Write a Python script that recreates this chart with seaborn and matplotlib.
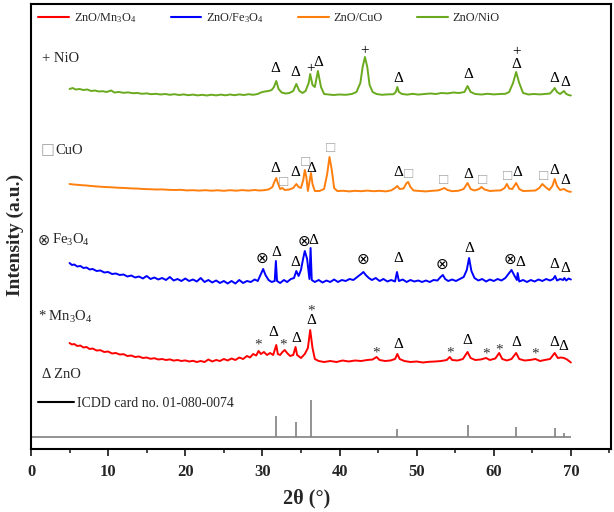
import matplotlib
matplotlib.use("Agg")
import matplotlib.pyplot as plt
from matplotlib.lines import Line2D
import seaborn as sns

# XRD patterns: (2theta, intensity a.u. above own baseline)
mn_pattern = [(5.0, 20), (5.3, 18.5), (5.6, 19), (6.0, 17), (6.4, 17.5), (6.8, 15.5), (7.2, 16), (7.6, 14),
              (8.0, 14.5), (8.5, 12.5), (9, 12.8), (9.5, 11), (10, 11.5), (10.5, 9.5), (11, 10), (11.5, 8.5),
              (12, 8.8), (12.5, 7), (13, 7.5), (13.5, 6), (14, 6.5), (14.5, 5), (15, 5.5), (15.5, 4.2),
              (16, 4.8), (16.5, 3.5), (17, 4), (17.5, 3), (18, 3.6), (18.5, 2.4), (19, 3), (19.5, 2),
              (20, 2.6), (20.5, 1.5), (21, 2.2), (21.5, 1), (22, 2), (22.5, 1), (23, 3.5), (23.5, 1.5),
              (24, 3), (24.5, 2), (25, 4), (25.5, 2.5), (26, 4.5), (26.5, 3), (27, 5.5), (27.5, 4),
              (28, 7), (28.4, 5.5), (28.8, 9), (29.2, 7.5), (29.5, 12), (29.8, 9), (30.2, 11), (30.6, 8),
              (31.0, 10), (31.4, 8), (31.6, 13), (31.8, 18), (32.0, 9), (32.3, 8), (32.6, 11), (32.9, 13),
              (33.2, 10), (33.6, 7), (34.0, 8), (34.3, 16), (34.5, 8), (35.0, 5), (35.5, 9), (35.9, 15),
              (36.2, 33), (36.5, 15), (36.8, 4), (37.3, 2), (38, 1), (38.8, 2), (39.6, 1), (40.4, 2.5),
              (41.2, 1.5), (42, 2.5), (42.8, 2), (43.6, 3), (44.3, 3.5), (44.8, 6), (45.2, 3), (45.9, 2),
              (46.6, 2.5), (47.2, 4), (47.5, 9), (47.8, 4), (48.4, 2), (49.2, 1), (50, 1.5), (50.8, 0.5),
              (51.6, 1.2), (52.4, 1.5), (53.2, 2), (53.9, 3), (54.3, 6), (54.6, 3), (55.3, 2.5), (56.0, 4),
              (56.6, 11), (57.0, 5), (57.6, 3), (58.3, 3.5), (59.0, 5), (59.5, 3), (60.2, 4.5), (60.7, 10),
              (61.1, 4), (61.7, 2.5), (62.3, 4), (62.9, 10), (63.3, 4), (64, 2.5), (64.7, 3), (65.4, 4),
              (66, 2), (66.6, 3), (67.3, 4), (67.9, 10), (68.3, 5), (68.7, 5.5), (69.1, 5), (69.5, 3.5),
              (70, 0.5)]

fe_pattern = [(5.0, 21), (5.3, 19), (5.6, 19.5), (6.0, 17.5), (6.4, 18), (6.8, 16), (7.2, 16.5), (7.6, 14.5),
              (8.0, 15), (8.5, 13), (9, 13.5), (9.5, 11.5), (10, 12), (10.5, 10), (11, 10.5), (11.5, 9),
              (12, 9.5), (12.5, 7.5), (13, 8.5), (13.5, 6.5), (14, 7.5), (14.5, 5.5), (15, 8), (15.5, 5),
              (16, 6.5), (16.5, 4.5), (17, 6), (17.5, 4), (18, 7), (18.5, 3.5), (19, 5), (19.5, 3),
              (20, 5.5), (20.5, 3), (21, 4.5), (21.5, 2.5), (22, 6), (22.5, 2), (23, 4), (23.5, 1.5),
              (24, 3.5), (24.5, 1), (25, 3), (25.5, 0.5), (26, 3), (26.5, 0.5), (27, 4), (27.5, 1),
              (28, 3), (28.5, 2), (29, 4.5), (29.4, 3), (29.8, 10), (30.1, 15), (30.4, 9), (30.8, 4),
              (31.2, 2), (31.6, 3), (31.75, 23), (31.9, 3), (32.3, 1), (32.8, 4), (33.2, 2), (33.7, 5),
              (34.1, 6), (34.4, 13), (34.7, 8), (35.0, 14), (35.3, 26), (35.5, 33), (35.8, 25), (36.1, 5),
              (36.25, 36), (36.4, 4), (36.8, 2), (37.3, 4), (37.8, 1.5), (38.3, 3.5), (38.8, 2), (39.3, 4.5),
              (39.8, 2), (40.3, 4), (40.8, 3), (41.3, 5), (41.8, 4), (42.3, 7), (42.8, 10), (43.1, 12),
              (43.4, 9), (43.8, 6), (44.2, 4), (44.7, 6), (45.2, 3), (45.7, 5), (46.2, 2.5), (46.7, 4),
              (47.2, 2.5), (47.45, 12), (47.7, 3), (48.2, 4.5), (48.7, 2), (49.2, 4), (49.7, 2.5), (50.2, 3.5),
              (50.7, 2), (51.2, 3.5), (51.7, 2), (52.2, 4), (52.7, 3.5), (53.1, 7), (53.4, 9), (53.7, 5),
              (54.1, 3), (54.6, 4.5), (55.1, 3), (55.6, 5), (56.1, 7), (56.5, 14), (56.8, 26), (57.1, 13),
              (57.5, 6), (58, 3.5), (58.5, 5), (59, 2.5), (59.5, 4.5), (60, 3), (60.5, 5), (61, 3.5),
              (61.5, 6), (61.9, 10), (62.3, 14), (62.7, 8), (63.0, 4), (63.1, 11), (63.3, 2.5), (63.8, 4),
              (64.3, 2), (64.8, 4), (65.3, 2.5), (65.8, 4.5), (66.3, 3), (66.8, 5), (67.3, 3.5), (67.7, 5),
              (67.95, 8), (68.2, 3.5), (68.6, 5), (69.0, 4), (69.15, 6), (69.4, 3.5), (69.7, 5.5), (70, 4.5)]

cu_pattern = [(5.0, 8), (5.5, 7.5), (6, 7.2), (6.6, 6.8), (7.2, 6.5), (7.8, 6), (8.4, 5.6), (9, 5.3),
              (9.6, 5), (10.2, 4.8), (10.8, 4.5), (11.5, 4.2), (12.2, 4), (13, 3.6), (13.8, 3.4), (14.6, 3),
              (15.4, 2.8), (16.2, 2.5), (17, 2.6), (17.8, 2.2), (18.6, 2), (19.4, 2.2), (20.2, 1.6), (21, 1.8),
              (21.8, 1.4), (22.6, 1.8), (23.4, 1.3), (24.2, 1.7), (25, 1.2), (25.8, 1.8), (26.6, 1.3), (27.4, 1.9),
              (28.2, 1.4), (29, 2), (29.6, 1.5), (30.2, 1.8), (30.8, 2.5), (31.3, 5), (31.6, 11), (31.8, 14),
              (32.0, 9), (32.3, 3), (32.6, 4), (32.9, 2), (33.5, 2.5), (34.0, 4), (34.4, 8), (34.7, 5),
              (35.0, 4), (35.3, 12), (35.5, 22), (35.7, 15), (35.9, 1), (36.1, 10), (36.3, 19), (36.5, 8),
              (36.8, 1), (37.4, 1), (38.0, 3), (38.4, 18), (38.7, 35), (39.0, 22), (39.3, 4), (39.7, 1),
              (40.5, 1.2), (41.3, 0.6), (42, 1.2), (42.8, 0.8), (43.6, 1.4), (44.4, 0.8), (45.2, 1.2), (46, 0.6),
              (46.7, 1.6), (47.2, 4), (47.5, 6), (47.8, 3), (48.3, 3.5), (48.7, 9), (48.9, 10), (49.2, 5),
              (49.6, 1.5), (50.4, 1), (51.2, 0.6), (52, 1.2), (52.8, 1.6), (53.3, 3), (53.6, 4), (54, 2),
              (54.6, 0.8), (55.4, 1.2), (56.1, 3), (56.6, 9), (57, 3), (57.5, 1.5), (58.1, 3), (58.4, 5),
              (58.8, 2.5), (59.5, 1), (60.2, 1.4), (60.9, 1.6), (61.4, 4), (61.7, 8), (62, 3.5), (62.4, 3),
              (62.9, 9), (63.3, 3), (63.8, 1), (64.6, 1.2), (65.4, 1.5), (65.9, 4), (66.3, 8), (66.7, 5),
              (67.2, 2), (67.6, 6), (67.9, 13), (68.2, 6), (68.6, 2), (69.1, 3), (69.4, 1.5), (69.7, 0.5),
              (70, 0.2)]

ni_pattern = [(5.0, 8), (5.4, 9), (5.8, 7.5), (6.3, 8), (6.8, 7), (7.3, 7.5), (7.8, 6), (8.3, 6.5),
              (8.8, 5.5), (9.3, 5.8), (9.8, 5), (10.4, 6.5), (10.8, 4.5), (11.4, 5), (12, 4.2), (12.6, 4.6),
              (13.2, 3.8), (13.8, 4), (14.4, 3.2), (15, 3.6), (15.6, 2.8), (16.2, 3.2), (16.8, 2.5), (17.4, 3),
              (18, 2.2), (18.6, 2.8), (19.2, 2), (19.8, 2.6), (20.4, 1.8), (21, 2.4), (21.6, 1.6), (22.2, 2.2),
              (22.8, 1.5), (23.4, 2.3), (24, 1.6), (24.6, 2.4), (25.2, 1.7), (25.8, 2.5), (26.4, 1.8), (27, 2.6),
              (27.6, 2), (28.2, 2.8), (28.8, 2.2), (29.4, 3), (29.8, 4.5), (30.3, 5.5), (30.8, 6), (31.2, 7),
              (31.5, 10), (31.8, 16), (32.1, 8), (32.5, 4.5), (33, 3.5), (33.5, 4), (34.0, 6), (34.4, 13),
              (34.8, 6), (35.2, 4), (35.6, 6), (36.0, 14), (36.2, 23), (36.5, 12), (36.8, 10), (37.2, 26),
              (37.6, 10), (38, 3), (38.6, 2.5), (39.2, 2), (40, 2.5), (40.8, 2.2), (41.6, 3), (42.2, 5),
              (42.7, 14), (43.0, 30), (43.3, 40), (43.6, 30), (43.9, 12), (44.3, 5), (44.8, 3), (45.5, 2.2),
              (46.2, 2.6), (47, 2.8), (47.3, 5), (47.5, 10), (47.7, 5), (48.1, 3), (48.8, 2.4), (49.5, 3.2),
              (50.2, 2.4), (51, 3), (51.8, 3.5), (52.5, 3), (53.2, 4), (54, 3.6), (54.8, 4.5), (55.5, 4),
              (56.2, 5), (56.6, 11), (57, 5), (57.6, 3), (58.4, 2.5), (59.2, 3.2), (60, 2.6), (60.8, 3),
              (61.5, 3.2), (62.0, 5), (62.5, 14), (62.9, 25), (63.3, 14), (63.8, 4), (64.5, 2.5), (65.2, 3),
              (66, 2.6), (66.6, 3), (67.3, 3.5), (67.7, 7), (67.9, 9), (68.2, 5), (68.6, 3), (69.1, 6),
              (69.4, 3), (69.7, 2), (70, 1.5)]

# reference ZnO card lines
icdd_pos = [31.8, 34.4, 36.3, 47.5, 56.6, 62.9, 67.9, 69.1]
icdd_int = [21, 15, 37, 8.5, 12, 10.5, 8.7, 4.3]

# phase markers: (2theta, symbol, level above the pattern baseline)
mn_marks = [(29.4, '*', 21), (31.4, 'Δ', 31), (32.7, '*', 21), (34.4, 'Δ', 24), (36.3, 'Δ', 43),
            (36.3, '*', 55), (44.8, '*', 13), (47.6, 'Δ', 19), (54.3, '*', 13), (56.6, 'Δ', 23),
            (59.0, '*', 12), (60.7, '*', 16), (62.9, 'Δ', 21), (65.4, '*', 12), (67.8, 'Δ', 21), (69.0, 'Δ', 16)]
fe_marks = [(30.0, '⊗', 25), (31.8, 'Δ', 32), (34.3, 'Δ', 22), (35.4, '⊗', 42), (36.6, 'Δ', 44),
            (43.1, '⊗', 24), (47.6, 'Δ', 25), (53.3, '⊗', 19), (56.8, 'Δ', 36), (62.1, '⊗', 24),
            (63.5, 'Δ', 21), (67.9, 'Δ', 20), (69.3, 'Δ', 16)]
cu_marks = [(31.7, 'Δ', 23), (32.8, '□', 10), (34.3, 'Δ', 19), (35.6, '□', 29), (36.4, 'Δ', 24),
            (38.9, '□', 43), (47.6, 'Δ', 20), (48.9, '□', 17), (53.5, '□', 11), (56.7, 'Δ', 18),
            (58.5, '□', 12), (61.8, '□', 15), (63.0, 'Δ', 19), (66.4, '□', 15), (67.9, 'Δ', 21), (69.3, 'Δ', 11)]
ni_marks = [(31.7, 'Δ', 28), (34.3, 'Δ', 24), (36.2, '+', 28), (37.2, 'Δ', 35), (43.3, '+', 46),
            (47.6, 'Δ', 19), (56.7, 'Δ', 23), (62.9, '+', 45), (62.9, 'Δ', 33), (67.9, 'Δ', 19), (69.3, 'Δ', 15)]

labels = ["ZnO/Mn$_3$O$_4$", "ZnO/Fe$_3$O$_4$", "ZnO/CuO", "ZnO/NiO"]
colors = ["#ff0000", "#0000ff", "#ff7f0e", "#6aaa1e"]
offsets = [86, 165, 257, 352]
icdd_offset = 12

sns.set_theme(style="white")
plt.rcParams['font.family'] = ['Liberation Serif', 'DejaVu Sans']
plt.rcParams['mathtext.fontset'] = 'custom'
plt.rcParams['mathtext.rm'] = 'Liberation Serif'
plt.rcParams['mathtext.default'] = 'regular'

fig = plt.figure(figsize=(6.14, 5.12), dpi=100)
ax = fig.add_axes([31 / 614, 63 / 512, 580 / 614, 445 / 512])

patterns = [mn_pattern, fe_pattern, cu_pattern, ni_pattern]
marks = [mn_marks, fe_marks, cu_marks, ni_marks]
sym_color = {'Δ': 'black', '*': '#333333', '⊗': 'black', '□': '#a0a0a0', '+': 'black'}

for pat, lab, col, off, mk in zip(patterns, labels, colors, offsets, marks):
    x = [p[0] for p in pat]
    y = [p[1] + off for p in pat]
    sns.lineplot(x=x, y=y, color=col, lw=1.4, label=lab, ax=ax, estimator=None, sort=False)
    for pos, sym, lev in mk:
        dy = -3 if sym == '*' else 0
        ax.text(pos, off + lev + dy, sym, ha='center', va='center', fontsize=11,
                color=sym_color[sym], family=['Liberation Serif', 'DejaVu Sans'])

# ICDD card sticks
ax.hlines(icdd_offset, 0, 70, color='#808080', lw=1.2)
ax.vlines(icdd_pos, icdd_offset, [icdd_offset + v for v in icdd_int], color='#808080', lw=1.2)

# phase key on the left
ax.text(1.4, 390, "+ NiO", ha='left', va='center', fontsize=10.5)
ax.text(1.3, 299, "□", ha='left', va='center', fontsize=10.5, color='#a0a0a0',
        family=['DejaVu Sans'])
ax.text(3.1, 299, "CuO", ha='left', va='center', fontsize=10.5)
ax.text(0.9, 209, "⊗", ha='left', va='center', fontsize=10.5, family=['DejaVu Sans'])
ax.text(2.7, 209, "Fe$_3$O$_4$", ha='left', va='center', fontsize=10.5)
ax.text(0.9, 132, "* Mn$_3$O$_4$", ha='left', va='center', fontsize=10.5)
ax.text(1.4, 74, "Δ ZnO", ha='left', va='center', fontsize=10.5)

leg = ax.legend(loc='upper left', bbox_to_anchor=(0.0, 1.0), ncol=4, frameon=False,
                fontsize=8.8, handlelength=2.5, handletextpad=0.4, columnspacing=2.8,
                borderaxespad=0.2)
for h in leg.get_lines():
    h.set_linewidth(1.5)
ax.add_artist(leg)
ax.legend(handles=[Line2D([], [], color='black', lw=1.5)], labels=["ICDD card no. 01-080-0074"],
          loc='center left', bbox_to_anchor=(0.0, 0.103), frameon=False, fontsize=10,
          handlelength=2.6, handletextpad=0.2, borderaxespad=0.1)

ax.set_xlim(0, 75.2)
ax.set_ylim(0, 445)
ax.set_yticks([])
ax.set_xticks(range(0, 71, 10))
ax.set_xticks(range(5, 76, 10), minor=True)
ax.tick_params(axis='x', which='major', direction='out', length=5, width=1.3, bottom=True,
               labelsize=12, pad=6)
ax.tick_params(axis='x', which='minor', direction='out', length=3, width=1.2, bottom=True)
for t in ax.get_xticklabels():
    t.set_fontweight('bold')
for s in ax.spines.values():
    s.set_linewidth(1.5)
    s.set_color('black')

ax.set_xlabel("2θ (°)", fontsize=14.5, fontweight='bold')
ax.set_ylabel("Intensity (a.u.)", fontsize=14, fontweight='bold')
ax.xaxis.set_label_coords(0.475, -0.088)
ax.yaxis.set_label_coords(-0.012, 0.48)

fig.savefig("out.png", dpi=100)
